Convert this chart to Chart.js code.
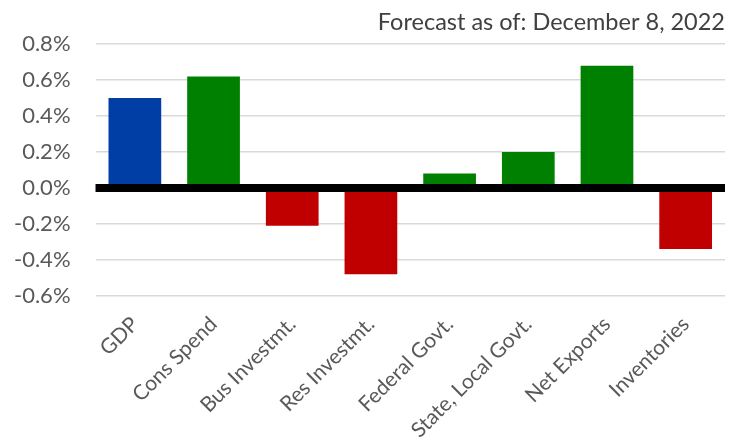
<!doctype html>
<html lang="en">
<head>
  <meta charset="utf-8" />
  <title>GDP Contributions Forecast</title>
  <script src="https://cdn.jsdelivr.net/npm/chart.js"></script>
  <style>
    html, body { margin: 0; padding: 0; background: #fff; }
    .wrap { width: 734px; height: 437px; }
  </style>
</head>
<body>
  <div class="wrap"><canvas id="chart"></canvas></div>
  <script>
    const categories = ['GDP', 'Cons Spend', 'Bus Investmt.', 'Res Investmt.', 'Federal Govt.', 'State, Local Govt.', 'Net Exports', 'Inventories'];
    const contributions = [0.50, 0.62, -0.21, -0.48, 0.08, 0.20, 0.68, -0.34];
    const barColors = ['#003DA5', '#008000', '#C00000', '#C00000', '#008000', '#008000', '#008000', '#C00000'];
    const titleText = 'Forecast as of: December 8, 2022';

    // thick black line at zero, drawn over the bars
    const zeroLine = {
      id: 'zeroLine',
      afterDatasetsDraw(chart) {
        const { ctx, chartArea, scales } = chart;
        const y = scales.y.getPixelForValue(0);
        ctx.save();
        ctx.strokeStyle = '#000';
        ctx.lineWidth = 8;
        ctx.beginPath();
        ctx.moveTo(chartArea.left, y);
        ctx.lineTo(chartArea.right, y);
        ctx.stroke();
        ctx.restore();
      },
    };

    new Chart(document.getElementById('chart'), {
      type: 'bar',
      plugins: [zeroLine],
      data: {
        labels: categories,
        datasets: [{
          data: contributions,
          backgroundColor: barColors,
          borderWidth: 0,
          categoryPercentage: 1,
          barPercentage: 0.67,
        }],
      },
      options: {
        responsive: true,
        maintainAspectRatio: false,
        animation: false,
        layout: { padding: { left: -11, right: 9, top: 8, bottom: -14 } },
        plugins: {
          legend: { display: false },
          tooltip: { enabled: false },
          title: {
            display: true,
            text: titleText,
            align: 'end',
            color: '#404040',
            font: { family: 'Lato', size: 23.5, weight: 'normal' },
            padding: { top: 0, bottom: 8 },
          },
        },
        scales: {
          x: {
            grid: { display: false },
            border: { display: false },
            ticks: {
              color: '#595959',
              font: { family: 'Lato', size: 21 },
              maxRotation: 45,
              minRotation: 45,
              autoSkip: false,
              padding: 8,
            },
          },
          y: {
            min: -0.6,
            max: 0.8,
            border: { display: false },
            grid: {
              color: '#d9d9d9',
              lineWidth: 1.5,
              drawTicks: false,
            },
            ticks: {
              stepSize: 0.2,
              color: '#595959',
              font: { family: 'Lato', size: 22 },
              padding: 25,
              callback: (value) => value.toFixed(1) + '%',
            },
          },
        },
      },
    });
  </script>
</body>
</html>
